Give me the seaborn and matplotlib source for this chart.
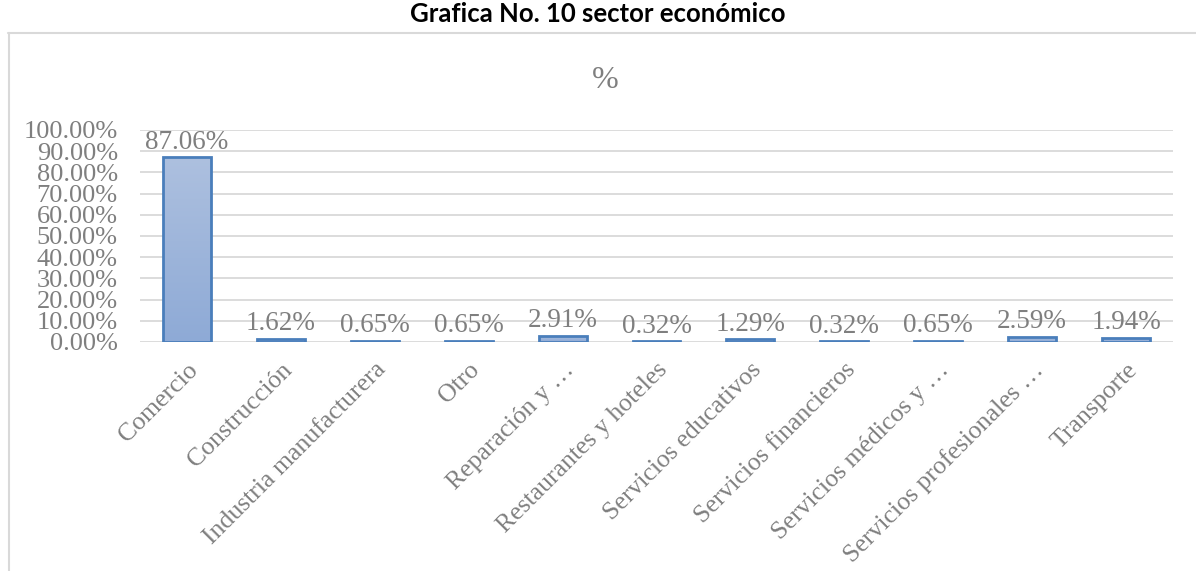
import numpy as np
import matplotlib
matplotlib.use("Agg")
import matplotlib.pyplot as plt
import seaborn as sns
from matplotlib.colors import LinearSegmentedColormap

categorias = [
  "Comercio", "Construcción", "Industria manufacturera", "Otro",
  "Reparación y …", "Restaurantes y hoteles", "Servicios educativos",
  "Servicios financieros", "Servicios médicos y …",
  "Servicios profesionales …", "Transporte",
]
porcentajes = [87.06, 1.62, 0.65, 0.65, 2.91, 0.32, 1.29, 0.32, 0.65, 2.59, 1.94]
ticks_y = [0, 10, 20, 30, 40, 50, 60, 70, 80, 90, 100]

gris = "#7f7f7f"
sns.set_style("white")
plt.rcParams["font.family"] = ["Liberation Serif", "DejaVu Serif"]

fig = plt.figure(figsize=(11.96, 5.71), dpi=100)
ax = fig.add_axes([140/1196, 229/571, 1033/1196, 212/571])

sns.barplot(x=categorias, y=porcentajes, ax=ax, color="#9db3da",
            edgecolor="#4a7ebb", linewidth=2, width=0.51)

# degradado dentro de cada barra
cmap = LinearSegmentedColormap.from_list("az", ["#8eaad6", "#adc0df"])
grad = np.linspace(0, 1, 256).reshape(-1, 1)
for p in ax.patches:
  x0, y0 = p.get_x(), p.get_y()
  w, h = p.get_width(), p.get_height()
  im = ax.imshow(grad, cmap=cmap, origin="lower", aspect="auto",
                 extent=[x0, x0 + w, y0, y0 + h], zorder=p.get_zorder() - 0.1)
  im.set_clip_path(p)
  p.set_facecolor("none")

ax.set_xlim(-0.5, len(categorias) - 0.5)
ax.set_ylim(0, 100)
ax.set_yticks(ticks_y)
ax.set_yticklabels([f"{t:.2f}%" for t in ticks_y])
ax.yaxis.grid(True, color="#d9d9d9", linewidth=1.3)
ax.set_axisbelow(True)
for s in ax.spines.values():
  s.set_visible(False)
ax.tick_params(axis="y", length=0, labelsize=19, labelcolor=gris, pad=16)
ax.tick_params(axis="x", length=0, labelsize=18.5, labelcolor=gris, pad=12)
plt.setp(ax.get_xticklabels(), rotation=45, ha="right", rotation_mode="anchor")

for i, v in enumerate(porcentajes):
  ax.text(i, v + 1.2, f"{v:.2f}%", ha="center", va="bottom",
          fontsize=19.5, color=gris)

ax.set_xlabel("")
ax.set_ylabel("")

fig.text(605/1196, 1 - 80/571, "%", ha="center", va="center",
         fontsize=23, color=gris)
fig.text(598/1196, 1 - 14/571, "Grafica No. 10 sector económico",
         ha="center", va="center", fontsize=18.5, fontweight="bold",
         family=["Lato", "DejaVu Sans"], color="black")

# borde del área del gráfico
fig.add_artist(plt.Line2D([8/1196, 1], [1 - 33/571, 1 - 33/571],
                          transform=fig.transFigure, color="#d9d9d9", lw=1.5))
fig.add_artist(plt.Line2D([9/1196, 9/1196], [0, 1 - 33/571],
                          transform=fig.transFigure, color="#d9d9d9", lw=1.5))

fig.savefig("out.png", dpi=100)
